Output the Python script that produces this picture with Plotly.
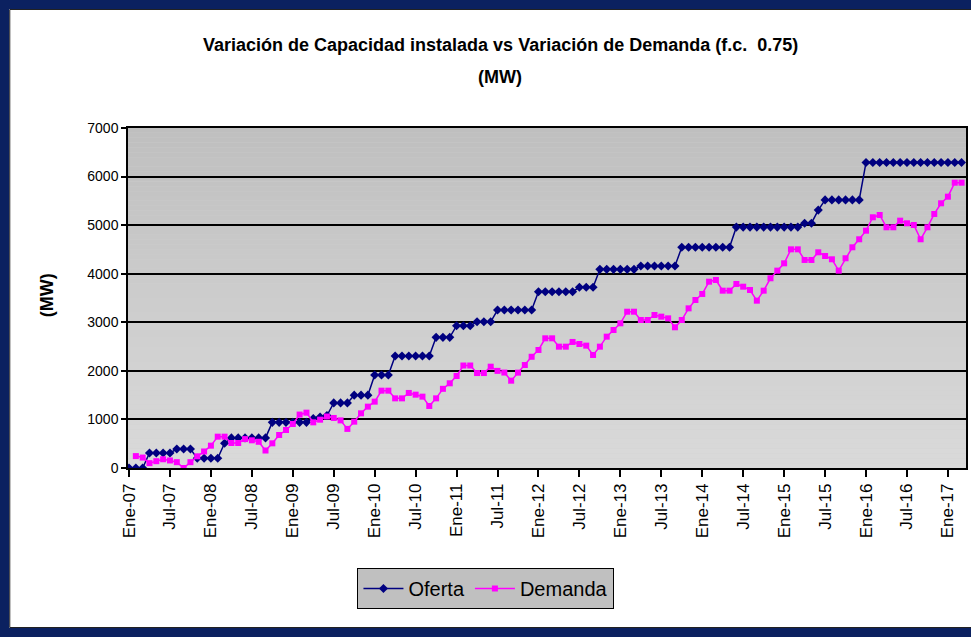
import plotly.graph_objects as go

# ---------------- data ----------------
mes_abrev = ["Ene", "Feb", "Mar", "Abr", "May", "Jun", "Jul", "Ago", "Sep", "Oct", "Nov", "Dic"]
meses = [f"{mes_abrev[k % 12]}-{7 + k // 12:02d}" for k in range(123)]  # Ene-07 .. Mar-17

oferta = (
    [0] * 3 + [310] * 4 + [390] * 3 + [200] * 4 + [510] + [620] * 6 + [940] * 6
    + [1020, 1050, 1080] + [1340] * 3 + [1500] * 3 + [1915] * 3 + [2306] * 6
    + [2690] * 3 + [2930] * 3 + [3010] * 3 + [3253] * 6 + [3630] * 6 + [3720] * 3
    + [4090] * 6 + [4160] * 6 + [4544] * 8 + [4960] * 10 + [5040] * 2 + [5310]
    + [5520] * 6 + [6290] * 15
)

demanda = [
    None, 245, 215, 100, 140, 180, 155, 120, 0, 120, 240,
    340, 460, 645, 645, 515, 515, 595, 570, 540, 360,
    508, 680, 782, 906, 1100, 1139, 940, 995, 1060, 1030,
    980, 805, 954, 1126, 1263, 1366, 1592, 1592, 1434, 1434,
    1545, 1510, 1469, 1277, 1434, 1630, 1744, 1894, 2110, 2110,
    1955, 1955, 2086, 2000, 1965, 1798, 1963, 2120, 2290, 2430,
    2670, 2670, 2498, 2498, 2595, 2553, 2519, 2327, 2498, 2704,
    2841, 2979, 3218, 3218, 3047, 3047, 3150, 3116, 3081, 2897,
    3047, 3287, 3459, 3583, 3836, 3871, 3651, 3651, 3789, 3733,
    3665, 3445, 3651, 3906, 4063, 4214, 4502, 4502, 4283, 4283,
    4441, 4365, 4297, 4063, 4318, 4544, 4709, 4886, 5162, 5209,
    4956, 4956, 5092, 5038, 5003, 4709, 4956, 5230, 5450, 5586,
    5874, 5874,
]

y_ticks = [0, 1000, 2000, 3000, 4000, 5000, 6000, 7000]
x_tick_labels = meses[::6]

titulo_1 = "Variación de Capacidad instalada vs Variación de Demanda (f.c.  0.75)"
titulo_2 = "(MW)"
eje_y = "(MW)"

# ---------------- layout helpers ----------------
W, H = 971, 637
L, R, T, B = 128, 3, 128, 169
PW, PH = W - L - R, H - T - B


def xp(px):
    return (px - L) / PW


def yp(py):
    return (H - B - py) / PH


FONT = "Liberation Sans, Arial, sans-serif"
NAVY = "#0b2160"

fig = go.Figure()

fig.add_trace(go.Scatter(
    x=meses, y=oferta, name="Oferta", mode="lines+markers",
    line=dict(color="#000080", width=1.5),
    marker=dict(symbol="diamond", size=7, color="#000080"),
))
fig.add_trace(go.Scatter(
    x=meses, y=demanda, name="Demanda", mode="lines+markers",
    line=dict(color="#ff00ff", width=1.5),
    marker=dict(symbol="square", size=6, color="#ff00ff"),
    connectgaps=False,
))

shapes = []
# gradient plot background (bands below gridlines)
n_bands = 70
top = y_ticks[-1]
for k in range(n_bands):
    v0 = top * k / n_bands
    v1 = top * (k + 1) / n_bands
    t = (k + 0.5) / n_bands
    g = round(218 - (218 - 191) * t)
    shapes.append(dict(type="rect", xref="x", yref="y", x0=-5, x1=200, y0=v0, y1=v1,
                       fillcolor=f"rgb({g},{g},{g})", line=dict(width=0), layer="below"))

# navy outer frame
shapes += [
    dict(type="rect", xref="paper", yref="paper", x0=xp(-5), x1=xp(9), y0=yp(645), y1=yp(-5),
         fillcolor=NAVY, line=dict(width=0), layer="above"),
    dict(type="rect", xref="paper", yref="paper", x0=xp(-5), x1=xp(980), y0=yp(9), y1=yp(-5),
         fillcolor=NAVY, line=dict(width=0), layer="above"),
    dict(type="rect", xref="paper", yref="paper", x0=xp(-5), x1=xp(980), y0=yp(645), y1=yp(628),
         fillcolor=NAVY, line=dict(width=0), layer="above"),
    dict(type="rect", xref="paper", yref="paper", x0=xp(9.5), x1=xp(985), y0=yp(627.5), y1=yp(9.5),
         fillcolor="rgba(0,0,0,0)", line=dict(width=1, color="#222222"), layer="above"),
]

annotations = [
    dict(text=f"<b>{titulo_1}</b>", xref="paper", yref="paper", x=xp(501), y=yp(45),
         xanchor="center", yanchor="middle", showarrow=False,
         font=dict(family=FONT, size=18, color="black")),
    dict(text=f"<b>{titulo_2}</b>", xref="paper", yref="paper", x=xp(501), y=yp(77),
         xanchor="center", yanchor="middle", showarrow=False,
         font=dict(family=FONT, size=18, color="black")),
    dict(text=f"<b>{eje_y}</b>", xref="paper", yref="paper", x=xp(47), y=yp(295),
         xanchor="center", yanchor="middle", showarrow=False, textangle=-90,
         font=dict(family=FONT, size=18, color="black")),
]

fig.update_layout(
    width=W, height=H,
    margin=dict(l=L, r=R, t=T, b=B, pad=0),
    paper_bgcolor="white",
    plot_bgcolor="#d0d0d0",
    shapes=shapes,
    annotations=annotations,
    showlegend=True,
    legend=dict(
        orientation="h", x=xp(358), y=yp(568), xanchor="left", yanchor="top",
        bgcolor="#c0c0c0", bordercolor="black", borderwidth=1,
        font=dict(family=FONT, size=20, color="black"),
        itemwidth=40, tracegroupgap=0,
    ),
    font=dict(family=FONT, color="black"),
)

fig.update_xaxes(
    type="category", range=[-0.15, 122.65],
    tickmode="array", tickvals=x_tick_labels, ticktext=x_tick_labels,
    tickangle=-90, ticks="outside", ticklen=7, tickwidth=1.5, tickcolor="black",
    showgrid=False, showline=True, linecolor="black", linewidth=1.5, mirror=True,
    tickfont=dict(family=FONT, size=17, color="black"),
    zeroline=False,
)
fig.update_yaxes(
    range=[0, 7000], tickmode="array", tickvals=y_ticks,
    ticks="outside", ticklen=5, tickwidth=1.5, tickcolor="black",
    showgrid=True, gridcolor="black", gridwidth=1.5,
    showline=True, linecolor="black", linewidth=1.5, mirror=True,
    tickfont=dict(family=FONT, size=14, color="black"),
    zeroline=False,
)

fig.write_html(
    "out.html",
    config={"displayModeBar": False},
    post_script="document.body.style.margin='0';",
)
